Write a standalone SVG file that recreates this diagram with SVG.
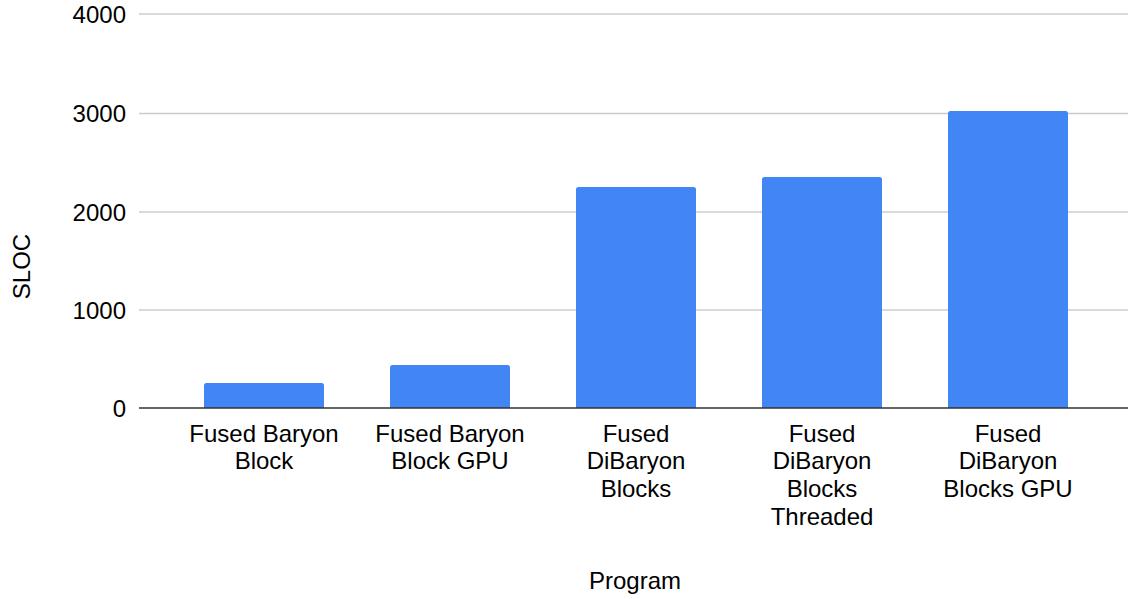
<svg xmlns="http://www.w3.org/2000/svg" width="1128" height="599" viewBox="0 0 1128 599">
<style>
text{font-family:"Liberation Sans",Arial,sans-serif;font-size:24px;fill:#000000}
.tick{text-anchor:end}
.lbl{text-anchor:middle}
.grid{stroke:#cccccc;stroke-width:1.3}
.bar{fill:#4285f4}
</style>
<rect width="1128" height="599" fill="#ffffff"/>
<g id="gridlines">
<line class="grid" x1="139" y1="14" x2="1128" y2="14"/>
<line class="grid" x1="139" y1="113.5" x2="1128" y2="113.5"/>
<line class="grid" x1="139" y1="212" x2="1128" y2="212"/>
<line class="grid" x1="139" y1="310" x2="1128" y2="310"/>
</g>
<g id="y-ticks">
<text class="tick" x="126" y="22.5">4000</text>
<text class="tick" x="126" y="122">3000</text>
<text class="tick" x="126" y="220.5">2000</text>
<text class="tick" x="126" y="318.5">1000</text>
<text class="tick" x="126" y="416.5">0</text>
</g>
<g id="bars">
<g id="bar1"><path class="bar" d="M204,408 V385.5 Q204,383 206.5,383 H321.5 Q324,383 324,385.5 V408 Z"/></g>
<g id="bar2"><path class="bar" d="M390,408 V367.5 Q390,365 392.5,365 H507.5 Q510,365 510,367.5 V408 Z"/></g>
<g id="bar3"><path class="bar" d="M576,408 V189.5 Q576,187 578.5,187 H693.5 Q696,187 696,189.5 V408 Z"/></g>
<g id="bar4"><path class="bar" d="M762,408 V179.5 Q762,177 764.5,177 H879.5 Q882,177 882,179.5 V408 Z"/></g>
<g id="bar5"><path class="bar" d="M948,408 V113.5 Q948,111 950.5,111 H1065.5 Q1068,111 1068,113.5 V408 Z"/></g>
</g>
<g id="axis">
<line x1="139" y1="408" x2="1128" y2="408" stroke="#333333" stroke-width="1.5"/>
</g>
<g id="x-labels">
<text class="lbl" x="264" y="441.5">Fused Baryon<tspan x="264" dy="27.7">Block</tspan></text>
<text class="lbl" x="450" y="441.5">Fused Baryon<tspan x="450" dy="27.7">Block GPU</tspan></text>
<text class="lbl" x="636" y="441.5">Fused<tspan x="636" dy="27.7">DiBaryon</tspan><tspan x="636" dy="27.7">Blocks</tspan></text>
<text class="lbl" x="822" y="441.5">Fused<tspan x="822" dy="27.7">DiBaryon</tspan><tspan x="822" dy="27.7">Blocks</tspan><tspan x="822" dy="27.7">Threaded</tspan></text>
<text class="lbl" x="1008" y="441.5">Fused<tspan x="1008" dy="27.7">DiBaryon</tspan><tspan x="1008" dy="27.7">Blocks GPU</tspan></text>
</g>
<g id="axis-titles">
<text class="lbl" x="635" y="589">Program</text>
<text class="lbl" transform="translate(30,266.5) rotate(-90)">SLOC</text>
</g>
</svg>
